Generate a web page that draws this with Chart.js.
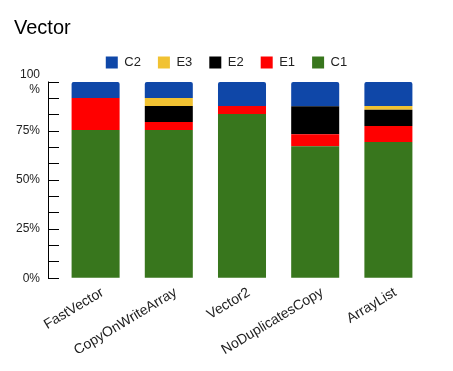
<!DOCTYPE html>
<html>
<head>
<meta charset="utf-8">
<script src="https://cdn.jsdelivr.net/npm/chart.js@4"></script>
<style>
html,body{margin:0;padding:0;background:#fff;}
#wrap{width:453px;height:371px;position:relative;}
</style>
</head>
<body>
<div id="wrap"><canvas id="c" width="453" height="371"></canvas></div>
<script>
const categories = ["FastVector", "CopyOnWriteArray", "Vector2", "NoDuplicatesCopy", "ArrayList"];
const seriesC1 = [75.5, 75.5, 83.7, 67.3, 69.4];
const seriesE1 = [16.3, 4.1, 4.1, 6.1, 8.2];
const seriesE2 = [0, 8.2, 0, 14.3, 8.2];
const seriesE3 = [0, 4.1, 0, 0, 2.0];
const seriesC2 = [8.2, 8.1, 12.2, 12.3, 12.2];
const yTickLabels = { 0: "0%", 25: "25%", 50: "50%", 75: "75%", 100: ["100", "%"] };

const axisLinePlugin = {
  id: 'axisLine',
  beforeInit(chart) {
    const lg = chart.legend;
    if (lg) {
      const orig = lg.fit;
      lg.fit = function () { orig.call(this); this.height += 3; };
    }
  },
  afterLayout(chart) {
    if (chart.legend) { chart.legend.left += 7; chart.legend.right += 7; }
  },
  afterDraw(chart) {
    const y = chart.scales.y;
    const ctx = chart.ctx;
    const x = chart.chartArea.left - 11.5;
    ctx.save();
    ctx.strokeStyle = '#000';
    ctx.lineWidth = 1;
    ctx.beginPath();
    ctx.moveTo(Math.round(x) + 0.5, y.getPixelForValue(100) - 0.5);
    ctx.lineTo(Math.round(x) + 0.5, y.getPixelForValue(0) + 0.5);
    ctx.stroke();
    ctx.restore();
  }
};

const ds = (label, data, color, extra) => Object.assign({
  label, data, backgroundColor: color, borderWidth: 0,
  categoryPercentage: 0.82, barPercentage: 0.8
}, extra || {});

new Chart(document.getElementById('c'), {
  type: 'bar',
  data: {
    labels: categories,
    datasets: [
      ds('C1', seriesC1, '#38761d'),
      ds('E1', seriesE1, '#ff0000'),
      ds('E2', seriesE2, '#000000'),
      ds('E3', seriesE3, '#f1c232'),
      ds('C2', seriesC2, '#0f47a8', { borderRadius: { topLeft: 2, topRight: 2, bottomLeft: 0, bottomRight: 0 }, borderSkipped: 'bottom' })
    ]
  },
  options: {
    responsive: false,
    animation: false,
    devicePixelRatio: 1,
    layout: { padding: { left: 14, right: 28, top: 8, bottom: 14 } },
    plugins: {
      title: {
        display: true, text: 'Vector', align: 'start', color: '#000',
        font: { family: 'Liberation Sans, Arial, sans-serif', size: 20, weight: 'normal' },
        padding: { top: 8, bottom: -1 }
      },
      legend: {
        reverse: true,
        labels: {
          boxWidth: 12, boxHeight: 12, padding: 17, color: '#222',
          font: { family: 'Liberation Sans, Arial, sans-serif', size: 13 }
        }
      },
      tooltip: { enabled: false }
    },
    scales: {
      x: {
        stacked: true,
        grid: { display: false },
        border: { display: false },
        ticks: {
          minRotation: 31, maxRotation: 31, color: '#222', padding: -2, labelOffset: 7,
          font: { family: 'Liberation Sans, Arial, sans-serif', size: 14 }
        }
      },
      y: {
        stacked: true, min: 0, max: 100,
        border: { display: false },
        afterFit: (s) => { s.width = 45; },
        grid: { drawOnChartArea: false, drawTicks: true, tickLength: 11, color: '#000', lineWidth: 1 },
        ticks: {
          stepSize: 100 / 12, color: '#222', padding: 8, autoSkip: false,
          font: { family: 'Liberation Sans, Arial, sans-serif', size: 12 },
          callback: (v, i) => (i % 3 === 0 ? yTickLabels[Math.round(v)] : '')
        }
      }
    }
  },
  plugins: [axisLinePlugin]
});
</script>
</body>
</html>
